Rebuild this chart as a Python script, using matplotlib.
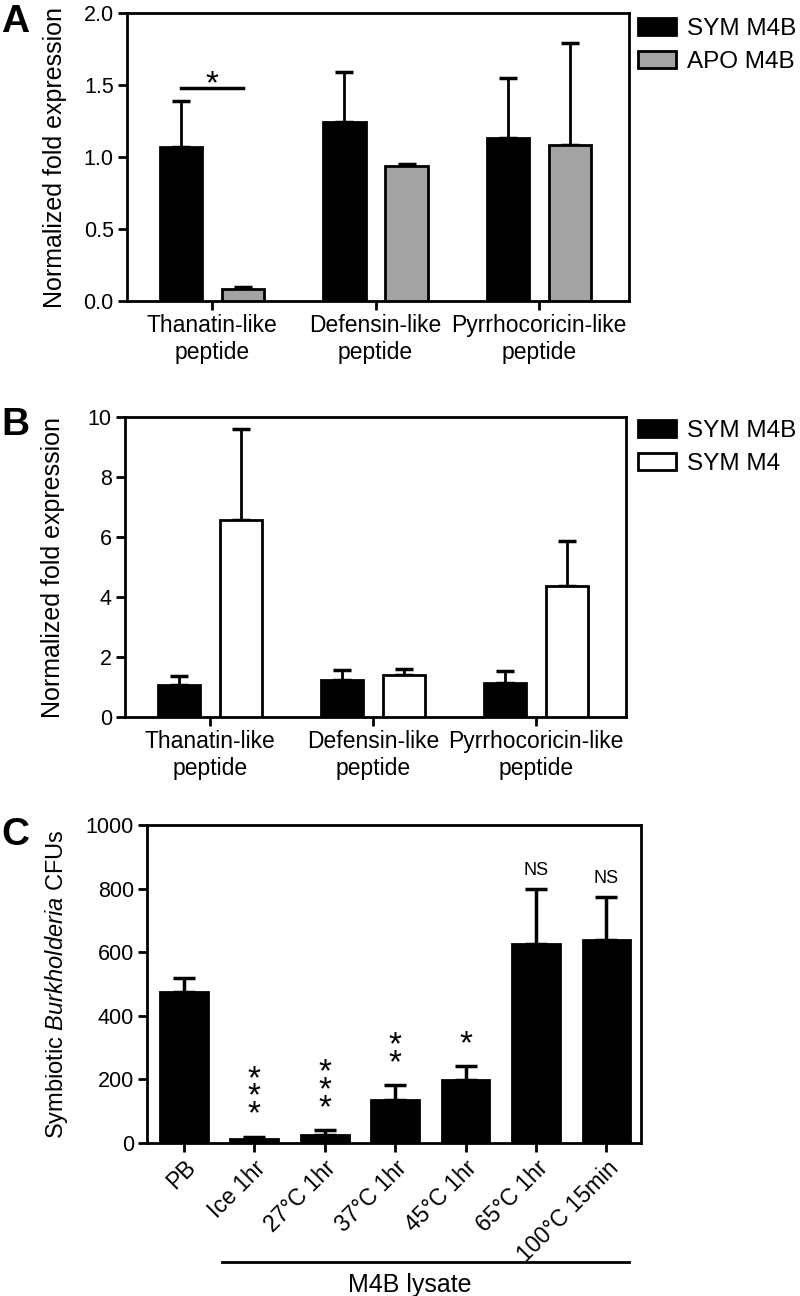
import matplotlib
matplotlib.use("Agg")
import matplotlib.pyplot as plt
import numpy as np
from matplotlib.patches import Patch
from matplotlib.transforms import blended_transform_factory

plt.rcParams["font.family"] = ["Liberation Sans", "DejaVu Sans"]
plt.rcParams["mathtext.fontset"] = "custom"
plt.rcParams["mathtext.rm"] = "Liberation Sans"
plt.rcParams["mathtext.it"] = "Liberation Sans:italic"

peptides = ["Thanatin-like\npeptide", "Defensin-like\npeptide", "Pyrrhocoricin-like\npeptide"]

# panel A: SYM M4B vs APO M4B
a_sym_m4b = [1.07, 1.24, 1.13]
a_sym_m4b_err = [0.32, 0.35, 0.42]
a_apo_m4b = [0.08, 0.94, 1.08]
a_apo_m4b_err = [0.02, 0.01, 0.71]
a_yticks = [0.0, 0.5, 1.0, 1.5, 2.0]

# panel B: SYM M4B vs SYM M4
b_sym_m4b = [1.07, 1.22, 1.13]
b_sym_m4b_err = [0.31, 0.35, 0.40]
b_sym_m4 = [6.57, 1.41, 4.37]
b_sym_m4_err = [3.03, 0.20, 1.49]
b_yticks = [0, 2, 4, 6, 8, 10]

# panel C: CFUs after lysate treatments
treatments = ["PB", "Ice 1hr", "27°C 1hr", "37°C 1hr", "45°C 1hr", "65°C 1hr", "100°C 15min"]
cfus = [476, 13, 26, 136, 198, 626, 639]
cfus_err = [42, 7, 14, 46, 44, 174, 135]
cfu_marks = ["", "***", "***", "**", "*", "NS", "NS"]
c_yticks = [0, 200, 400, 600, 800, 1000]

W, H = 800, 1296
fig = plt.figure(figsize=(W / 100, H / 100), dpi=100)


def px_axes(left, top, right, bottom):
    return fig.add_axes([left / W, 1 - bottom / H, (right - left) / W, (bottom - top) / H])


def style(ax):
    for sp in ax.spines.values():
        sp.set_linewidth(2)
    ax.tick_params(axis="y", direction="out", length=6.5, width=2, labelsize=15.5, pad=3)
    ax.tick_params(axis="x", direction="out", length=6.5, width=2, labelsize=16.5, pad=3)


def grouped(ax, s1, e1, s2, e2, color2, names, ylim, yticks, yfmt, leg_top):
    x = np.arange(len(s1))
    w, off = 0.26, 0.19
    ax.bar(x - off, s1, w, color="black", edgecolor="black", linewidth=2, zorder=3)
    ax.bar(x + off, s2, w, color=color2, edgecolor="black", linewidth=2, zorder=3)
    ax.errorbar(x - off, s1, yerr=[np.zeros(len(s1)), e1], fmt="none", ecolor="black",
                elinewidth=2, capsize=6.5, capthick=2.5, zorder=2)
    ax.errorbar(x + off, s2, yerr=[np.zeros(len(s2)), e2], fmt="none", ecolor="black",
                elinewidth=2, capsize=6.5, capthick=2.5, zorder=2)
    ax.set_xlim(-0.52, 2.55)
    ax.set_ylim(*ylim)
    ax.set_yticks(yticks)
    ax.set_yticklabels([yfmt.format(t) for t in yticks])
    ax.set_xticks(x)
    ax.set_xticklabels(peptides)
    ax.set_ylabel("Normalized fold expression", fontsize=18)
    ax.yaxis.set_label_coords(-0.12, 0.5)
    style(ax)
    handles = [Patch(facecolor="black", edgecolor="black", linewidth=2),
               Patch(facecolor=color2, edgecolor="black", linewidth=2)]
    ax.legend(handles, names, loc="upper left", bbox_to_anchor=(638 / W, 1 - leg_top / H),
              bbox_transform=fig.transFigure, frameon=False, fontsize=17.5,
              handlelength=1.55, handleheight=0.7, handletextpad=0.45,
              labelspacing=0.45, borderpad=0, borderaxespad=0)


# ---- A
axA = px_axes(127, 13, 629, 301)
grouped(axA, a_sym_m4b, a_sym_m4b_err, a_apo_m4b, a_apo_m4b_err, "#a3a3a3",
        ["SYM M4B", "APO M4B"], (0, 2.0), a_yticks, "{:.1f}", 18)
axA.plot([-0.19, 0.19], [1.48, 1.48], color="black", linewidth=2.5)
axA.annotate("*", (0, 1.48), xytext=(0, -9), textcoords="offset points",
             ha="center", va="bottom", fontsize=24)

# ---- B
axB = px_axes(125, 417, 626, 717)
grouped(axB, b_sym_m4b, b_sym_m4b_err, b_sym_m4, b_sym_m4_err, "white",
        ["SYM M4B", "SYM M4"], (0, 10), b_yticks, "{:d}", 420)

# ---- C
axC = px_axes(147, 825, 641, 1143)
xc = np.arange(len(cfus))
axC.bar(xc, cfus, 0.68, color="black", edgecolor="black", linewidth=2, zorder=3)
axC.errorbar(xc, cfus, yerr=[np.zeros(len(cfus)), cfus_err], fmt="none", ecolor="black",
             elinewidth=2.5, capsize=8, capthick=2.5, zorder=2)
axC.set_xlim(-0.52, 6.49)
axC.set_ylim(0, 1000)
axC.set_yticks(c_yticks)
axC.set_xticks(xc)
axC.set_xticklabels(treatments, rotation=45, ha="right", rotation_mode="anchor")
axC.set_ylabel(r"Symbiotic $\it{Burkholderia}$ CFUs", fontsize=17)
axC.yaxis.set_label_coords(-0.156, 0.5)
style(axC)

for xi, top, mark in zip(xc, np.add(cfus, cfus_err), cfu_marks):
    if mark == "NS":
        axC.annotate(mark, (xi, top), xytext=(0, 7), textcoords="offset points",
                     ha="center", va="bottom", fontsize=13)
    elif mark:
        # stars stacked one above the other
        axC.annotate("\n".join(mark), (xi, top), xytext=(0, 4.5), textcoords="offset points",
                     ha="center", va="bottom", fontsize=24, linespacing=0.45)

tr = blended_transform_factory(axC.transData, axC.transAxes)
axC.plot([0.55, 6.32], [-0.374, -0.374], color="black", linewidth=2, transform=tr, clip_on=False)
axC.text(3.21, -0.469, "M4B lysate", ha="center", va="baseline", fontsize=18, transform=tr)

# panel letters
for letter, base in [("A", 32), ("B", 435), ("C", 845)]:
    fig.text(1 / W, 1 - base / H, letter, ha="left", va="baseline", fontsize=28, fontweight="bold")

fig.savefig("out.png", dpi=100)
